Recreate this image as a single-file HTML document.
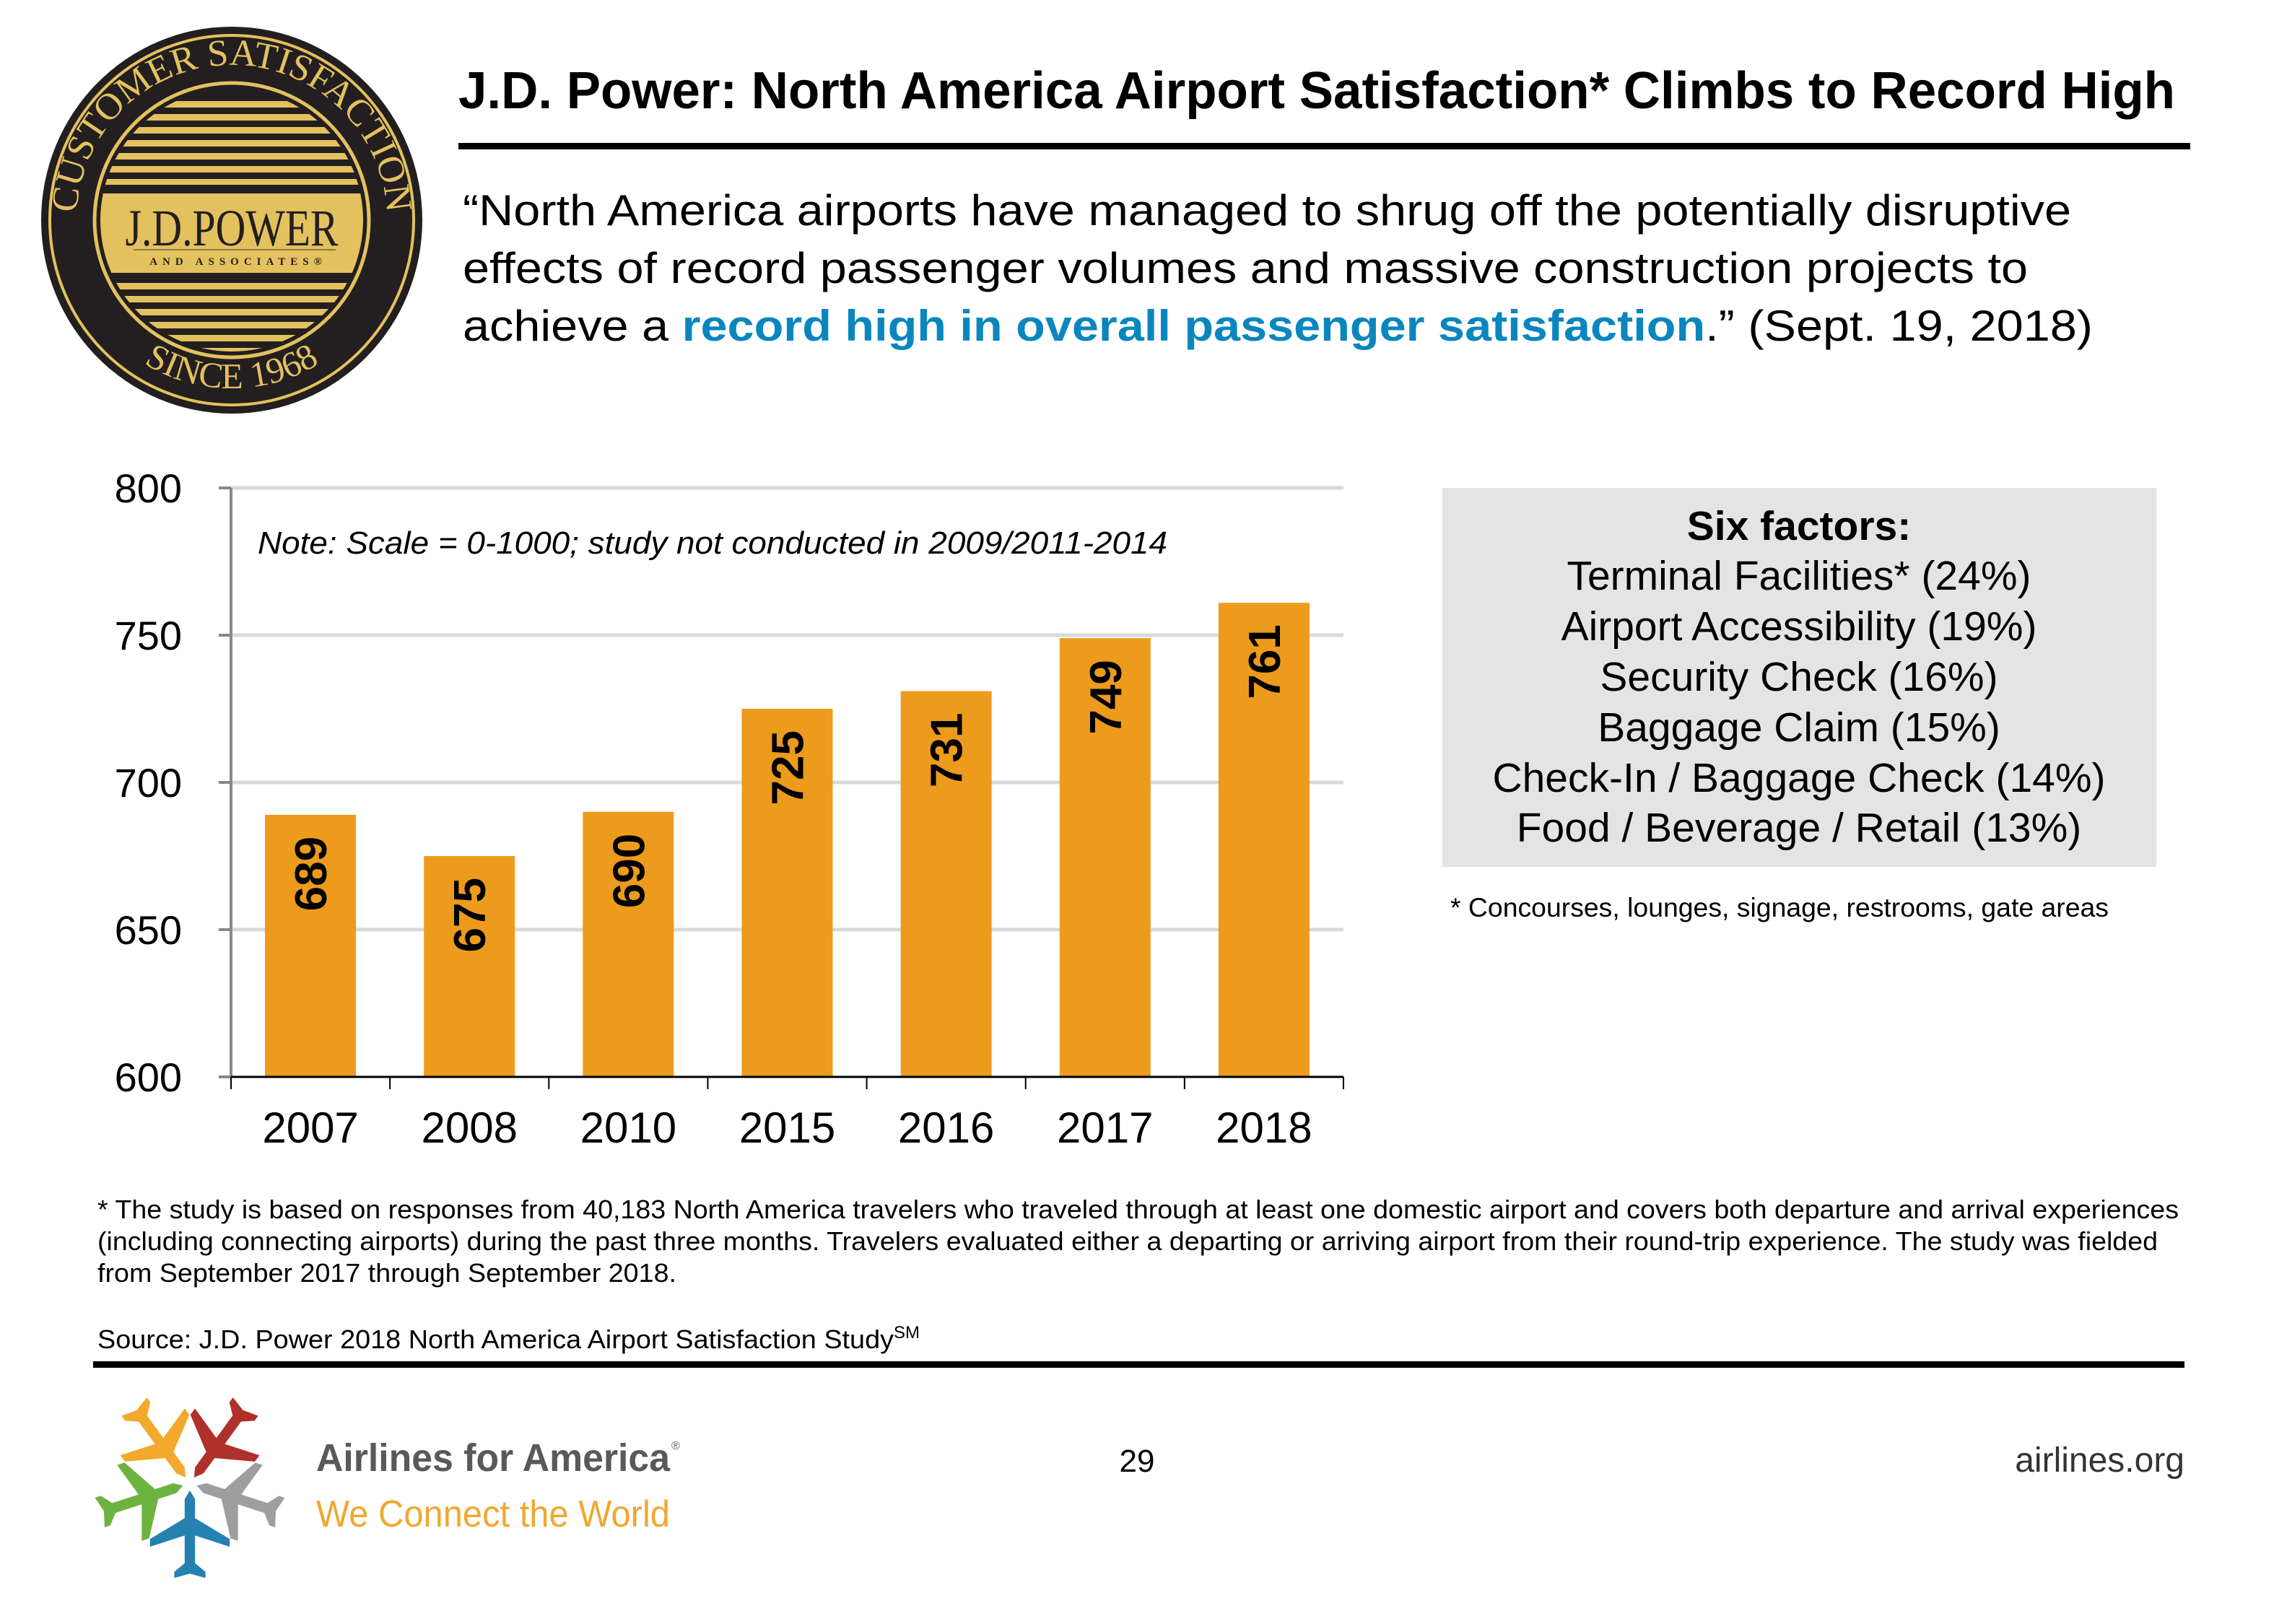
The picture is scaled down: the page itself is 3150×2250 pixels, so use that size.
<!DOCTYPE html>
<html>
<head>
<meta charset="utf-8">
<style>
  html,body{margin:0;padding:0;background:#fff;}
  svg{display:block;}
  text{font-family:"Liberation Sans", Arial, sans-serif;}
  .serif{font-family:"Liberation Serif","Times New Roman",serif;}
</style>
</head>
<body>
<svg id="page" width="3150" height="2250" viewBox="0 0 3150 2250" xmlns="http://www.w3.org/2000/svg">
  <rect width="3150" height="2250" fill="#fff"/>

  <!-- J.D. Power seal -->
  <g>
    <defs>
      <path id="arcTop" d="M 106,305 A 215,215 0 0 1 536,305"/>
      <path id="arcBot" d="M 88,305 A 233,233 0 0 0 554,305"/>
      <clipPath id="innerClip"><circle cx="321" cy="305" r="182"/></clipPath>
    </defs>
    <ellipse cx="321" cy="305" rx="264" ry="268" fill="#231f20"/>
    <ellipse cx="321" cy="305" rx="252" ry="256" fill="none" stroke="#e3c15e" stroke-width="4"/>
    <circle cx="321" cy="305" r="190" fill="none" stroke="#e3c15e" stroke-width="5"/>
    <g clip-path="url(#innerClip)">
      <rect x="130" y="115" width="380" height="380" fill="#231f20"/>
      <g fill="#e3c15e">
        <rect x="130" y="140" width="380" height="9"/>
        <rect x="130" y="158" width="380" height="9"/>
        <rect x="130" y="176" width="380" height="9"/>
        <rect x="130" y="194" width="380" height="9"/>
        <rect x="130" y="212" width="380" height="9"/>
        <rect x="130" y="230" width="380" height="9"/>
        <rect x="130" y="248" width="380" height="8"/>
        <rect x="130" y="268" width="380" height="110"/>
        <rect x="130" y="392" width="380" height="9"/>
        <rect x="130" y="410" width="380" height="9"/>
        <rect x="130" y="428" width="380" height="9"/>
        <rect x="130" y="446" width="380" height="9"/>
        <rect x="130" y="464" width="380" height="9"/>
        <rect x="130" y="482" width="380" height="9"/>
      </g>
    </g>
    <text class="serif" x="321" y="340" text-anchor="middle" font-size="72" fill="#231f20" textLength="295" lengthAdjust="spacingAndGlyphs">J.D.POWER</text>
    <line x1="185" y1="346" x2="465" y2="346" stroke="#8a7a4a" stroke-width="2"/>
    <text class="serif" x="330" y="367" text-anchor="middle" font-size="15" font-weight="bold" fill="#231f20" letter-spacing="7">AND ASSOCIATES®</text>
    <text class="serif" font-size="52" fill="#e3c15e"><textPath href="#arcTop" startOffset="50%" text-anchor="middle">CUSTOMER SATISFACTION</textPath></text>
    <text class="serif" font-size="50" fill="#e3c15e"><textPath href="#arcBot" startOffset="50%" text-anchor="middle">SINCE 1968</textPath></text>
  </g>

  <!-- Title -->
  <text x="635" y="150" font-size="72" font-weight="bold" fill="#000" textLength="2378" lengthAdjust="spacingAndGlyphs">J.D. Power: North America Airport Satisfaction* Climbs to Record High</text>
  <rect x="635" y="198" width="2399" height="9" fill="#000"/>

  <!-- Quote -->
  <g font-size="60" fill="#000">
    <text x="641" y="312" textLength="2228" lengthAdjust="spacingAndGlyphs">“North America airports have managed to shrug off the potentially disruptive</text>
    <text x="641" y="392" textLength="2168" lengthAdjust="spacingAndGlyphs">effects of record passenger volumes and massive construction projects to</text>
    <text x="641" y="472" textLength="2258" lengthAdjust="spacingAndGlyphs">achieve a <tspan font-weight="bold" fill="#0a86bf">record high in overall passenger satisfaction</tspan>.” (Sept. 19, 2018)</text>
  </g>

  <!-- Chart -->
  <g id="chart"></g>

  <!-- Six factors box -->
  <g>
    <rect x="1998" y="676" width="989" height="525" fill="#e4e4e4"/>
    <g font-size="57" fill="#000" text-anchor="middle">
      <text x="2492" y="748" font-weight="bold">Six factors:</text>
      <text x="2492" y="817">Terminal Facilities* (24%)</text>
      <text x="2492" y="887">Airport Accessibility (19%)</text>
      <text x="2492" y="957">Security Check (16%)</text>
      <text x="2492" y="1027">Baggage Claim (15%)</text>
      <text x="2492" y="1097">Check-In / Baggage Check (14%)</text>
      <text x="2492" y="1166">Food / Beverage / Retail (13%)</text>
    </g>
    <text x="2009" y="1270" font-size="37" fill="#000" textLength="912" lengthAdjust="spacingAndGlyphs">* Concourses, lounges, signage, restrooms, gate areas</text>
  </g>

  <!-- Footnotes -->
  <g font-size="36" fill="#000">
    <text x="135" y="1688" textLength="2883" lengthAdjust="spacingAndGlyphs">* The study is based on responses from 40,183 North America travelers who traveled through at least one domestic airport and covers both departure and arrival experiences</text>
    <text x="135" y="1732" textLength="2854" lengthAdjust="spacingAndGlyphs">(including connecting airports) during the past three months. Travelers evaluated either a departing or arriving airport from their round-trip experience. The study was fielded</text>
    <text x="135" y="1776" textLength="802" lengthAdjust="spacingAndGlyphs">from September 2017 through September 2018.</text>
  </g>
  <text x="135" y="1868" font-size="36" fill="#000"><tspan textLength="1103" lengthAdjust="spacingAndGlyphs">Source: J.D. Power 2018 North America Airport Satisfaction Study</tspan><tspan font-size="24" dy="-14">SM</tspan></text>
  <rect x="129" y="1886" width="2897" height="9" fill="#000"/>

  <!-- A4A logo -->
  <g>
    <defs>
      <path id="plane" d="M0,0 L6,10 L6,32 L46,56 L46,65 L6,52 L6,84 L18,94 L18,101 L0,96 L-18,101 L-18,94 L-6,84 L-6,52 L-46,65 L-46,56 L-6,32 L-6,10 Z"/>
    </defs>
    <g transform="translate(263,2055)">
      <use href="#plane" fill="#2582b0" transform="rotate(0) translate(0,10) scale(1.2)"/>
      <use href="#plane" fill="#6db33f" transform="rotate(72) translate(0,10) scale(1.2)"/>
      <use href="#plane" fill="#f2a92c" transform="rotate(144) translate(0,10) scale(1.2)"/>
      <use href="#plane" fill="#b0312a" transform="rotate(216) translate(0,10) scale(1.2)"/>
      <use href="#plane" fill="#9e9e9e" transform="rotate(288) translate(0,10) scale(1.2)"/>
    </g>
    <text x="438" y="2038" font-size="54" font-weight="bold" fill="#58595b" textLength="490" lengthAdjust="spacingAndGlyphs">Airlines for America</text>
    <text x="930" y="2008" font-size="16" fill="#58595b">®</text>
    <text x="438" y="2115" font-size="52" fill="#f0a830" textLength="490" lengthAdjust="spacingAndGlyphs">We Connect the World</text>
  </g>
  <text x="1575" y="2039" font-size="44" fill="#000" text-anchor="middle">29</text>
  <text x="3026" y="2039" font-size="48" fill="#333" text-anchor="end">airlines.org</text>

<script>
const categories = ["2007","2008","2010","2015","2016","2017","2018"];
const values = [689, 675, 690, 725, 731, 749, 761];
const yTicks = [600, 650, 700, 750, 800];
const yMin = 600, yMax = 800;

(function(){
  const NS = "http://www.w3.org/2000/svg";
  const g = document.getElementById("chart");
  const left = 320, right = 1861, top = 676, bottom = 1492;
  const band = (right - left) / categories.length;
  const barW = 126;
  function yScale(v){ return bottom - (v - yMin) / (yMax - yMin) * (bottom - top); }
  function xCenter(i){ return left + band * (i + 0.5); }
  function mk(tag, attrs){ const e = document.createElementNS(NS, tag); for (const k in attrs) e.setAttribute(k, attrs[k]); g.appendChild(e); return e; }

  yTicks.forEach(function(t){
    const y = yScale(t);
    if (t !== yMin) {
      const gl = mk("line", {x1:left, x2:right, y1:y, y2:y, stroke:"#d9d9d9", "stroke-width":5});
      
      
    }
    const tk = mk("line", {x1:303, x2:left, y1:y, y2:y, stroke:"#888", "stroke-width":4});
    
    
    const lb = mk("text", {x:252, y:y + 20, "font-size":56, "text-anchor":"end", fill:"#000"});
    lb.textContent = t;
    
    
  });

  const yAxis = mk("line", {x1:left, x2:left, y1:top, y2:bottom, stroke:"#888", "stroke-width":4});
  
  

  const note = mk("text", {x:357, y:767, "font-size":44, "font-style":"italic", fill:"#000", textLength:1260, lengthAdjust:"spacingAndGlyphs"});
  note.textContent = "Note: Scale = 0-1000; study not conducted in 2009/2011-2014";
  
  

  values.forEach(function(v, i){
    const cx = xCenter(i);
    const y = yScale(v);
    const bar = mk("rect", {x:cx - barW/2, y:y, width:barW, height:bottom - y, fill:"#ec9b1c"});
    
    
    const lbl = mk("text", {x:0, y:0, "font-size":62, "font-weight":"bold", fill:"#000", "text-anchor":"end",
      transform:"translate(" + (cx + 22) + "," + (y + 30) + ") rotate(-90)"});
    lbl.textContent = v;
    
    
    const cl = mk("text", {x:cx, y:1583, "font-size":60, "text-anchor":"middle", fill:"#000"});
    cl.textContent = categories[i];
    
    
  });

  const xAxis = mk("line", {x1:left, x2:right, y1:bottom, y2:bottom, stroke:"#000", "stroke-width":3});
  
  
  for (let i = 0; i <= categories.length; i++) {
    const x = left + band * i;
    const t = mk("line", {x1:x, x2:x, y1:bottom, y2:bottom + 17, stroke:"#000", "stroke-width":2});
    
    
  }
})();
</script>
</svg>
</body>
</html>
